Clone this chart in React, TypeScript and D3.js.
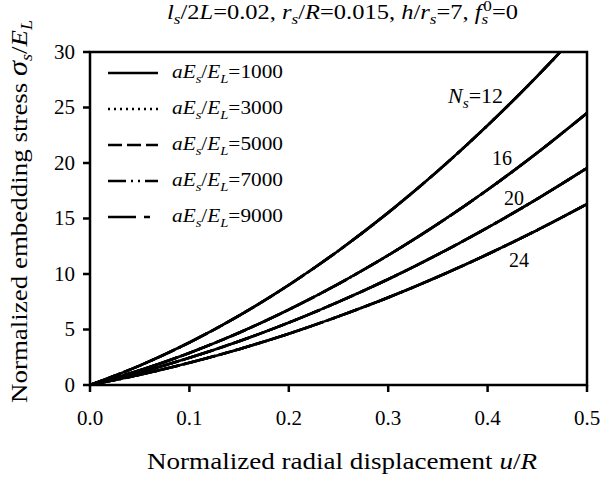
import * as d3 from "d3";

// u/R sample points
const uValues = [0, 0.05, 0.1, 0.15, 0.2, 0.25, 0.3, 0.35, 0.4, 0.45, 0.5];

// sigma_s/E_L for each N_s (curves for all aEs/EL coincide)
const ns12 = [0, 1.75, 3.83, 6.25, 9.01, 12.1, 15.53, 19.29, 23.39, 27.83, 32.6];
const ns16 = [0, 1.32, 2.89, 4.71, 6.79, 9.11, 11.69, 14.51, 17.59, 20.92, 24.5];
const ns20 = [0, 1.13, 2.45, 3.94, 5.62, 7.49, 9.53, 11.76, 14.18, 16.77, 19.55];
const ns24 = [0, 0.92, 2.0, 3.23, 4.62, 6.18, 7.88, 9.75, 11.78, 13.96, 16.3];

const nsCurves = [ns12, ns16, ns20, ns24];
const ratioLabels = ["1000", "3000", "5000", "7000", "9000"];
const dashes = ["none", "2,4", "14,5", "18,5,2,5,2,5", "28,8,6,8"];

const xTicks = [0, 0.1, 0.2, 0.3, 0.4, 0.5];
const yTicks = [0, 5, 10, 15, 20, 25, 30];

const W = 600;
const H = 478;
const margin = { top: 52, right: 13, bottom: 93, left: 90 };
const FONT = "'Liberation Serif', 'Times New Roman', serif";

export default function App() {
  const x = d3.scaleLinear().domain([0, 0.5]).range([margin.left, W - margin.right]);
  const y = d3.scaleLinear().domain([0, 30]).range([H - margin.bottom, margin.top]);
  const x0 = x(0), x1 = x(0.5), y0 = y(0), y1 = y(30);

  const line = d3
    .line<number>()
    .x((_, i) => x(uValues[i]))
    .y((d) => y(d))
    .curve(d3.curveMonotoneX);

  const legendY = (i: number) => 73 + i * 36;

  return (
    <svg width={W} height={H} style={{ position: "absolute", left: 0, top: 0, background: "#fff" }} fontFamily={FONT}>
      <defs>
        <clipPath id="plot">
          <rect x={x0} y={y1} width={x1 - x0} height={y0 - y1} />
        </clipPath>
      </defs>

      {/* title */}
      <text x={167} y={19} fontSize={20} fill="#000" textLength={351} lengthAdjust="spacingAndGlyphs">
        <tspan fontStyle="italic">l</tspan>
        <tspan fontStyle="italic" fontSize={14} dy={5}>s</tspan>
        <tspan dy={-5}>/2</tspan>
        <tspan fontStyle="italic">L</tspan>
        <tspan>=0.02, </tspan>
        <tspan fontStyle="italic">r</tspan>
        <tspan fontStyle="italic" fontSize={14} dy={5}>s</tspan>
        <tspan dy={-5}>/</tspan>
        <tspan fontStyle="italic">R</tspan>
        <tspan>=0.015, </tspan>
        <tspan fontStyle="italic">h</tspan>
        <tspan>/</tspan>
        <tspan fontStyle="italic">r</tspan>
        <tspan fontStyle="italic" fontSize={14} dy={5}>s</tspan>
        <tspan dy={-5}>=7, </tspan>
        <tspan fontStyle="italic">f</tspan>
        <tspan fontStyle="italic" fontSize={14} dy={5}>s</tspan>
        <tspan fontSize={14} dx={-4} dy={-13}>0</tspan>
        <tspan dy={8}>=0</tspan>
      </text>

      {/* curves */}
      <g clipPath="url(#plot)" fill="none" stroke="#000" strokeWidth={2.6}>
        {dashes.map((dash, si) =>
          nsCurves.map((c, ci) => (
            <path key={`${si}-${ci}`} d={line(c) || ""} strokeDasharray={dash} />
          ))
        )}
      </g>

      {/* frame */}
      <rect x={x0} y={y1} width={x1 - x0} height={y0 - y1} fill="none" stroke="#000" strokeWidth={2.5} />

      {/* x axis ticks */}
      {xTicks.map((t) => (
        <g key={t}>
          <line x1={x(t)} x2={x(t)} y1={y0} y2={y0 + 7} stroke="#000" strokeWidth={2.5} />
          <text x={x(t)} y={425} fontSize={21} textAnchor="middle">
            {t.toFixed(1)}
          </text>
        </g>
      ))}

      {/* y axis ticks */}
      {yTicks.map((t) => (
        <g key={t}>
          <line x1={x0 - 7} x2={x0} y1={y(t)} y2={y(t)} stroke="#000" strokeWidth={2.5} />
          <text x={75} y={y(t) + 6.5} fontSize={21} textAnchor="end">
            {t}
          </text>
        </g>
      ))}

      {/* axis titles */}
      <text x={147} y={469} fontSize={23} textLength={390} lengthAdjust="spacingAndGlyphs">
        Normalized radial displacement <tspan fontStyle="italic">u</tspan>/<tspan fontStyle="italic">R</tspan>
      </text>
      <text transform={`translate(27,403) rotate(-90)`} fontSize={24} textLength={383} lengthAdjust="spacingAndGlyphs">
        Normalized embedding stress <tspan fontStyle="italic" fontSize={27}>σ</tspan>
        <tspan fontStyle="italic" fontSize={16} dy={5}>s</tspan>
        <tspan dy={-5}>/</tspan>
        <tspan fontStyle="italic">E</tspan>
        <tspan fontStyle="italic" fontSize={16} dy={5}>L</tspan>
      </text>

      {/* legend */}
      {ratioLabels.map((lab, i) => (
        <g key={lab}>
          <line x1={108} x2={158} y1={legendY(i)} y2={legendY(i)} stroke="#000" strokeWidth={2.6} strokeDasharray={dashes[i]} />
          <text x={172} y={legendY(i) + 5} fontSize={19} textLength={111} lengthAdjust="spacingAndGlyphs">
            <tspan fontStyle="italic">aE</tspan>
            <tspan fontStyle="italic" fontSize={13} dy={5}>s</tspan>
            <tspan dy={-5}>/</tspan>
            <tspan fontStyle="italic">E</tspan>
            <tspan fontStyle="italic" fontSize={13} dy={5}>L</tspan>
            <tspan dy={-5}>={lab}</tspan>
          </text>
        </g>
      ))}

      {/* curve labels */}
      <text x={448} y={103} fontSize={20} textLength={55} lengthAdjust="spacingAndGlyphs">
        <tspan fontStyle="italic">N</tspan>
        <tspan fontStyle="italic" fontSize={14} dy={5}>s</tspan>
        <tspan dy={-5}>=12</tspan>
      </text>
      <text x={492} y={165} fontSize={20}>16</text>
      <text x={504} y={205} fontSize={20}>20</text>
      <text x={509} y={267} fontSize={20}>24</text>
    </svg>
  );
}
